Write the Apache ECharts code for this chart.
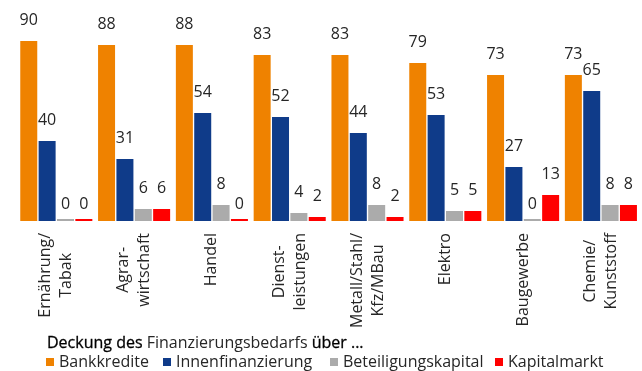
<!DOCTYPE html>
<html>
<head>
<meta charset="utf-8">
<script src="https://cdn.jsdelivr.net/npm/echarts@6/dist/echarts.min.js"></script>
<style>
  html, body { margin: 0; padding: 0; background: #fff; }
  #chart { width: 642px; height: 371px; }
</style>
</head>
<body>
<div id="chart"></div>
<script>
// Branches (line breaks as printed under each group)
const categories = [
  'Ernährung/\nTabak',
  'Agrar-\nwirtschaft',
  'Handel',
  'Dienst-\nleistungen',
  'Metall/Stahl/\nKfz/MBau',
  'Elektro',
  'Baugewerbe',
  'Chemie/\nKunststoff'
];

// Share of firms covering their financing needs via each source (%)
const bankkredite        = [90, 88, 88, 83, 83, 79, 73, 73];
const innenfinanzierung  = [40, 31, 54, 52, 44, 53, 27, 65];
const beteiligungskapital = [0, 6, 8, 4, 8, 5, 0, 8];
const kapitalmarkt       = [0, 6, 0, 2, 2, 5, 13, 8];

const seriesNames = ['Bankkredite', 'Innenfinanzierung', 'Beteiligungskapital', 'Kapitalmarkt'];
const seriesValues = [bankkredite, innenfinanzierung, beteiligungskapital, kapitalmarkt];
const colors = ['#EF8200', '#0F3B89', '#ABABAB', '#FF0000'];

const FONT = '"Open Sans", "Liberation Sans", sans-serif';
const TEXT = '#262626';

const chart = echarts.init(document.getElementById('chart'), null, { renderer: 'canvas' });

const series = seriesNames.map((name, i) => ({
  name,
  type: 'bar',
  barWidth: 17,
  barGap: '8%',
  barMinHeight: 2,
  itemStyle: { color: colors[i] },
  label: {
    show: true,
    position: 'top',
    distance: 13,
    color: TEXT,
    fontFamily: FONT,
    fontSize: 16
  },
  // zero entries sit on the baseline, so their labels hang a little lower
  data: seriesValues[i].map(v => v === 0 ? { value: v, label: { distance: 7 } } : v)
}));

// one legend block per source, laid out along the bottom row
const legendLeft = [46, 163, 330, 495];
const legends = seriesNames.map((name, i) => ({
  data: [name],
  left: legendLeft[i],
  top: 354,
  padding: 0,
  itemWidth: 8,
  itemHeight: 8,
  icon: 'rect',
  selectedMode: false,
  textStyle: { fontFamily: FONT, fontSize: 16, color: TEXT, padding: [0, 0, 0, 0] }
}));

chart.setOption({
  animation: false,
  color: colors,
  title: {
    text: '{b|Deckung des} Finanzierungsbedarfs {b|über ...}',
    left: 47,
    top: 335,
    padding: 0,
    textStyle: {
      fontFamily: FONT,
      fontSize: 16,
      fontWeight: 'normal',
      color: TEXT,
      rich: {
        b: { fontFamily: FONT, fontSize: 16, color: '#000', fontWeight: 'normal', textBorderColor: '#000', textBorderWidth: 0.3 }
      }
    }
  },
  legend: legends,
  grid: { left: 17.4, width: 622.4, top: 21, height: 200, containLabel: false },
  xAxis: {
    type: 'category',
    data: categories,
    axisLine: { show: false },
    axisTick: { show: false },
    axisLabel: {
      interval: 0,
      rotate: 90,
      margin: 12,
      color: TEXT,
      fontFamily: FONT,
      fontSize: 16,
      lineHeight: 21,
      formatter: v => v.split('\n').map(s => '{c|' + s + '}').join('\n'),
      rich: {
        c: { align: 'center', fontFamily: FONT, fontSize: 16, lineHeight: 21, color: TEXT }
      }
    }
  },
  yAxis: {
    type: 'value',
    min: 0,
    max: 100,
    show: false,
    splitLine: { show: false }
  },
  series
});
</script>
</body>
</html>
